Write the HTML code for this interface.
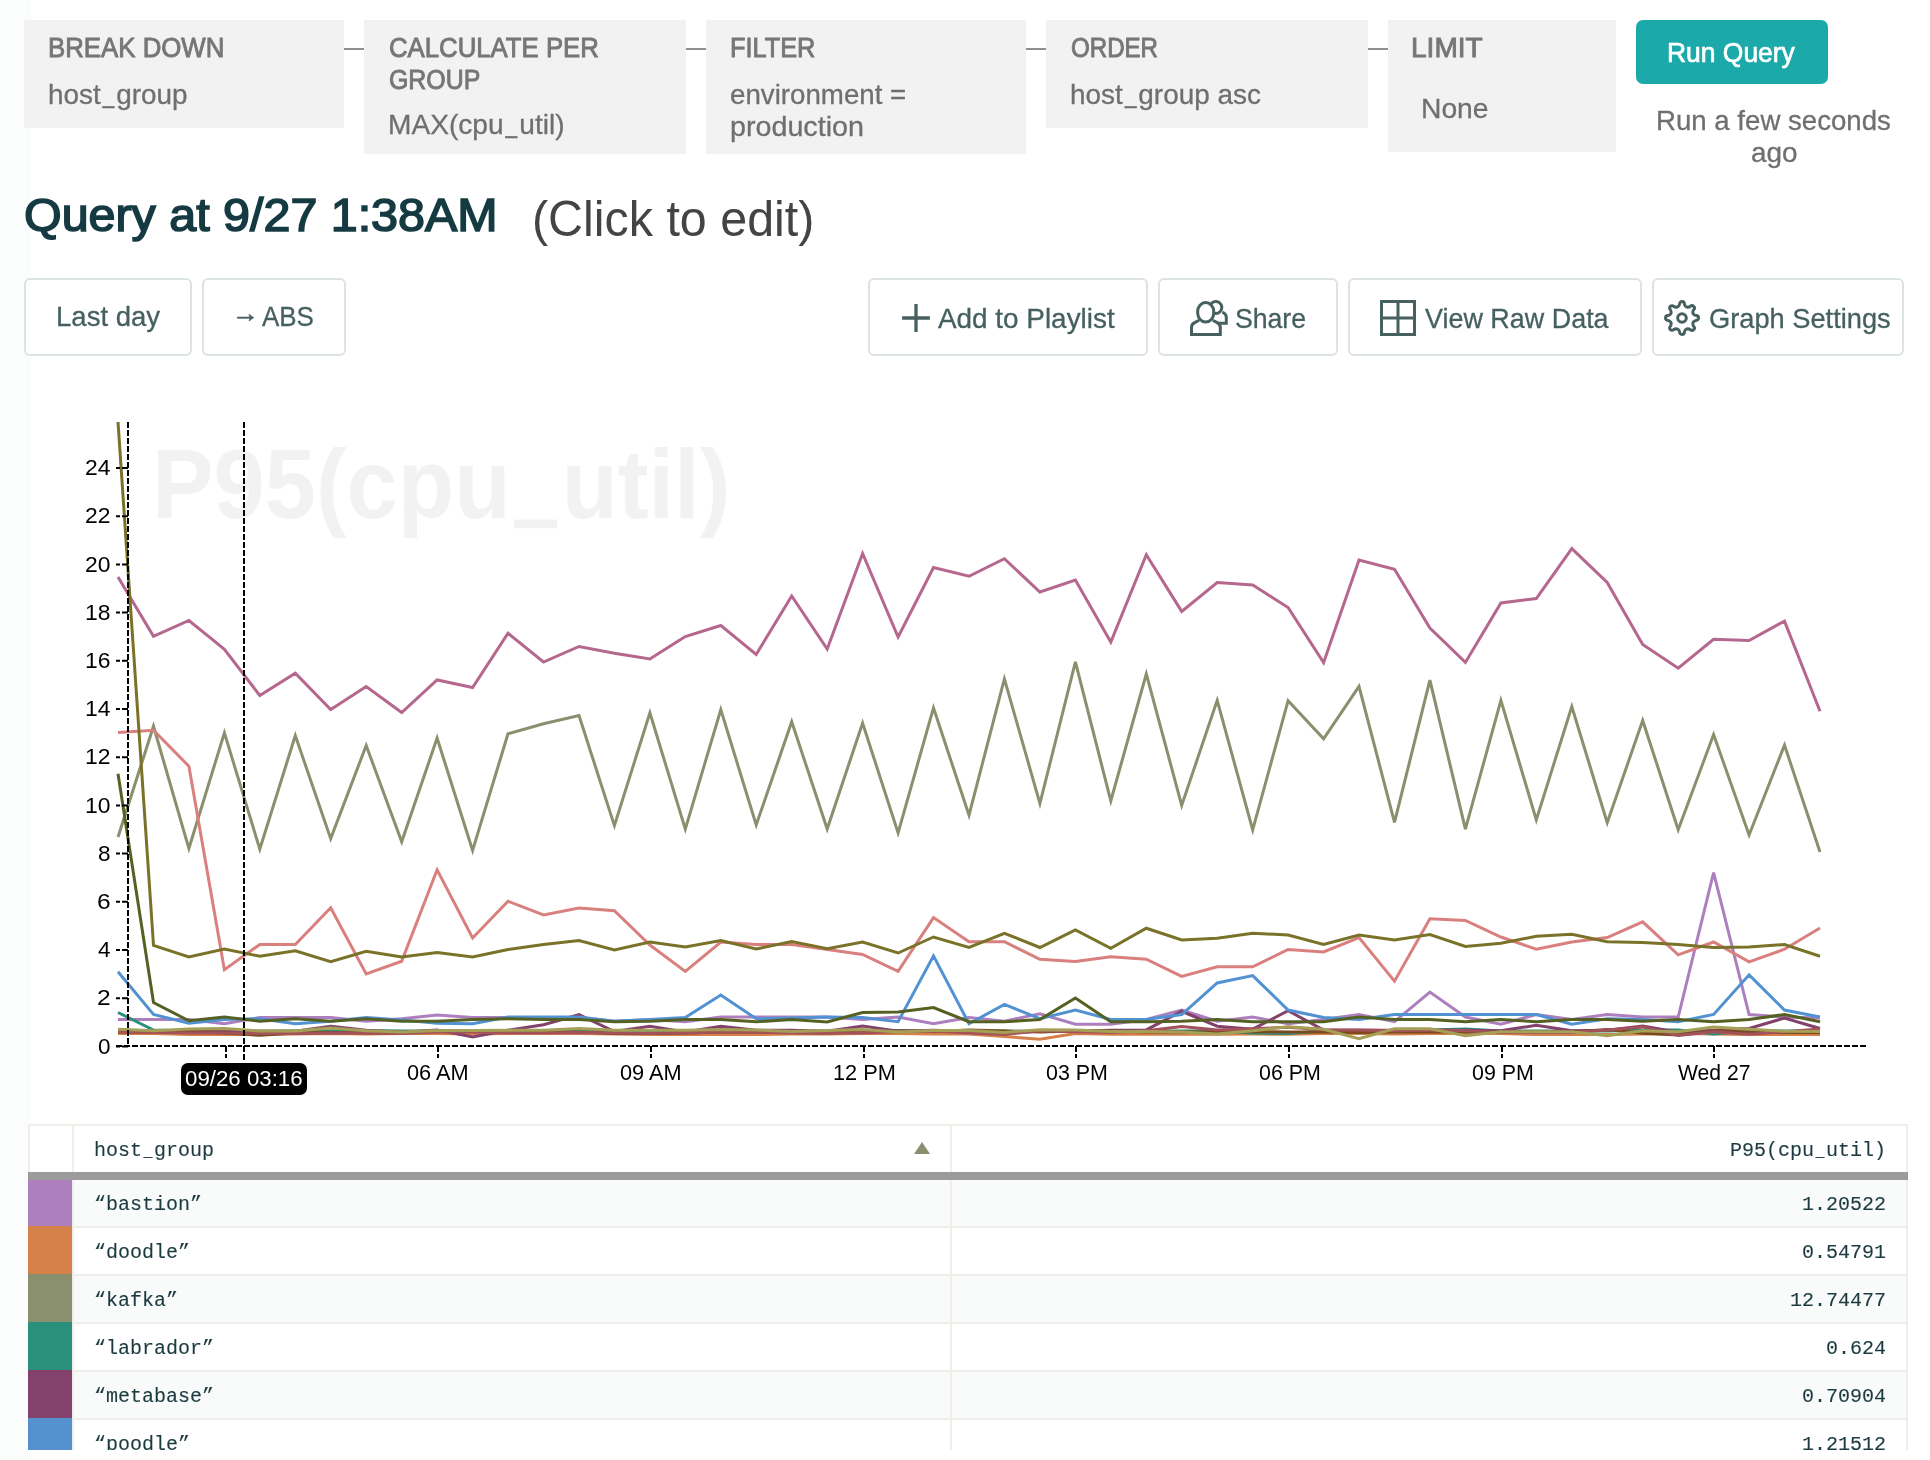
<!DOCTYPE html>
<html lang="en"><head><meta charset="utf-8"><title>Query at 9/27 1:38AM</title>
<style>
html,body{margin:0;padding:0;background:#fff}
body{width:1930px;height:1460px;position:relative;overflow:hidden;font-family:'Liberation Sans', sans-serif}
.edge{position:absolute;left:0;top:0;width:31px;height:1460px;background:#fbfcfc}
.t{position:absolute;white-space:nowrap;line-height:1;transform-origin:0 0;font-family:'Liberation Sans', sans-serif}
.us{display:inline-block;transform:translateY(-2.5px) scaleX(.74)}
.um{display:inline-block;transform:scaleX(.75)}
.box{position:absolute;background:#f2f2f2}
.conn{position:absolute;top:47.5px;height:2px;width:20px;background:#8f8f8f}
button{font:inherit;margin:0;padding:0;border:0;background:none;display:block;box-sizing:border-box;text-align:left;color:inherit}
h1{margin:0;padding:0;font:inherit}
.run{position:absolute;left:1636px;top:20px;width:192px;height:64px;border-radius:7px;background:#1ba9a9}
.btn{position:absolute;top:278px;height:78px;border:2px solid #dce4e3;border-radius:6px;background:#fff}
.ic{position:absolute;overflow:visible}
.chart{position:absolute;left:0;top:0}
.tip{position:absolute;left:180.5px;top:1062.5px;width:126.5px;height:32px;border-radius:7px;background:#000}
.tbl{position:absolute;left:28px;top:1124px;width:1880px;height:326px;overflow:hidden}
.th{position:absolute;left:0;top:0;width:1876px;height:46px;border:2px solid #efeee9;border-bottom:none;background:#fff}
.bar{position:absolute;left:0;top:48px;width:1880px;height:8px;background:#9b9b9b}
.cd{position:absolute;top:0;width:2px;height:400px;background:#efeee9}
.row{position:absolute;left:28px;width:1880px;height:46px;border-bottom:2px solid #efeee9}
.sw{position:absolute;left:0;top:0;width:44px;height:48px}
.mono{font-family:'Liberation Mono', monospace;font-size:20px;color:#1c3b41;-webkit-text-stroke:0.12px #1c3b41;line-height:1;position:absolute;white-space:nowrap}
.n{font-family:'Liberation Mono', monospace;font-size:20px;color:#1c3b41;-webkit-text-stroke:0.12px #1c3b41;position:absolute;left:66px;top:15px;line-height:1;white-space:nowrap}
.v{font-family:'Liberation Mono', monospace;font-size:20px;color:#1c3b41;-webkit-text-stroke:0.12px #1c3b41;position:absolute;right:22px;top:15px;line-height:1;white-space:nowrap}
.clipb{position:absolute;left:0;top:1450px;width:1930px;height:10px;background:#fff}
#page{position:absolute;left:0;top:0;width:1930px;height:1460px;will-change:transform}
</style></head><body>
<div id="page">
<div class="edge"></div>

<div class="box" style="left:24px;top:20px;width:320px;height:108px"><span class="t" style="left:23.51px;top:15px;font-size:26.8px;font-weight:400;color:#767676;transform:scaleX(0.9630);-webkit-text-stroke:0.9px currentColor;">BREAK DOWN</span><span class="t" style="left:24.17px;top:60px;font-size:28.5px;font-weight:400;color:#6f6f6f;transform:scaleX(0.9783);-webkit-text-stroke:0.3px currentColor;">host<span class="us">_</span>group</span></div>
<div class="conn" style="left:344px"></div>
<div class="box" style="left:364px;top:20px;width:322px;height:134px"><span class="t" style="left:25.07px;top:15px;font-size:26.8px;font-weight:400;color:#767676;transform:scaleX(0.9608);-webkit-text-stroke:0.9px currentColor;">CALCULATE PER</span><span class="t" style="left:25.09px;top:47px;font-size:26.8px;font-weight:400;color:#767676;transform:scaleX(0.9292);-webkit-text-stroke:0.9px currentColor;">GROUP</span><span class="t" style="left:23.78px;top:90px;font-size:28.5px;font-weight:400;color:#6f6f6f;transform:scaleX(0.9864);-webkit-text-stroke:0.3px currentColor;">MAX(cpu<span class="us">_</span>util)</span></div>
<div class="conn" style="left:686px"></div>
<div class="box" style="left:706px;top:20px;width:320px;height:134px"><span class="t" style="left:23.53px;top:15px;font-size:26.8px;font-weight:400;color:#767676;transform:scaleX(0.9452);-webkit-text-stroke:0.9px currentColor;">FILTER</span><span class="t" style="left:24.17px;top:60px;font-size:28.5px;font-weight:400;color:#6f6f6f;transform:scaleX(0.9719);-webkit-text-stroke:0.3px currentColor;">environment =</span><span class="t" style="left:24.14px;top:92px;font-size:28.5px;font-weight:400;color:#6f6f6f;transform:scaleX(1.0066);-webkit-text-stroke:0.3px currentColor;">production</span></div>
<div class="conn" style="left:1026px"></div>
<div class="box" style="left:1046px;top:20px;width:322px;height:108px"><span class="t" style="left:24.91px;top:15px;font-size:26.8px;font-weight:400;color:#767676;transform:scaleX(0.8991);-webkit-text-stroke:0.9px currentColor;">ORDER</span><span class="t" style="left:24.17px;top:60px;font-size:28.5px;font-weight:400;color:#6f6f6f;transform:scaleX(0.9797);-webkit-text-stroke:0.3px currentColor;">host<span class="us">_</span>group asc</span></div>
<div class="conn" style="left:1368px"></div>
<div class="box" style="left:1388px;top:20px;width:228px;height:132px"><span class="t" style="left:22.78px;top:15px;font-size:26.8px;font-weight:400;color:#767676;transform:scaleX(1.0475);-webkit-text-stroke:0.9px currentColor;">LIMIT</span><span class="t" style="left:32.57px;top:74px;font-size:28.5px;font-weight:400;color:#6f6f6f;transform:scaleX(0.9911);-webkit-text-stroke:0.3px currentColor;">None</span></div>
<button class="run"><span class="t" style="left:31.44px;top:19px;font-size:28px;font-weight:400;color:#fff;transform:scaleX(0.9441);-webkit-text-stroke:0.7px currentColor;">Run Query</span></button>
<span class="t" style="left:1656.21px;top:106px;font-size:28.5px;font-weight:400;color:#6f6f6f;transform:scaleX(0.9691);-webkit-text-stroke:0.3px currentColor;">Run a few seconds</span><span class="t" style="left:1751.17px;top:138px;font-size:28.5px;font-weight:400;color:#6f6f6f;transform:scaleX(0.9782);-webkit-text-stroke:0.3px currentColor;">ago</span>

<h1><span class="t" style="left:23.73px;top:193px;font-size:45.6px;font-weight:400;color:#153a42;transform:scaleX(1.0617);-webkit-text-stroke:1.6px currentColor;">Query at 9/27 1:38AM</span></h1><span class="t" style="left:532.07px;top:194px;font-size:49.5px;font-weight:400;color:#444;transform:scaleX(0.9777);">(Click to edit)</span>

<button class="btn" style="left:24px;width:168px"><span class="t" style="left:29.61px;top:22px;font-size:28.5px;font-weight:400;color:#45605f;transform:scaleX(0.9664);-webkit-text-stroke:0.3px currentColor;">Last day</span></button>
<button class="btn" style="left:202px;width:144px"><span class="t" style="left:27.54px;top:21px;font-size:25px;font-weight:400;color:#45605f;transform:scaleX(1.0769);-webkit-text-stroke:0.6px currentColor;">→</span><span class="t" style="left:58.34px;top:22px;font-size:28.5px;font-weight:400;color:#45605f;transform:scaleX(0.9091);-webkit-text-stroke:0.3px currentColor;">ABS</span></button>
<button class="btn" style="left:868px;width:280px"><svg class="ic" style="left:30px;top:22px" width="32" height="32" viewBox="900 302 32 32"><path d="M916,304.1V331.9M902.1,318H929.9" stroke="#45605f" stroke-width="3.3" fill="none"/></svg><span class="t" style="left:68.15px;top:24px;font-size:28.5px;font-weight:400;color:#45605f;transform:scaleX(0.9781);-webkit-text-stroke:0.3px currentColor;">Add to Playlist</span></button>
<button class="btn" style="left:1158px;width:180px"><svg class="ic" style="left:26px;top:16px" width="46" height="44" viewBox="1186 296 46 44"><g fill="none" stroke="#45605f" stroke-width="3">
<circle cx="1215.8" cy="307.5" r="6"/>
<path d="M1222.3,312.2Q1226.3,313.8 1226.3,317.6V323.3H1216"/>
<path d="M1199,320.2L1194.2,322.9Q1191.5,324.4 1191.5,327.6V334.5H1220.3V327.6Q1220.3,324.4 1217.6,322.9L1212.8,320.2" fill="#fff"/>
<rect x="1197.7" y="302.6" width="16" height="19.4" rx="8" ry="8.7" fill="#fff"/>
</g></svg><span class="t" style="left:75.21px;top:24px;font-size:28.5px;font-weight:400;color:#45605f;transform:scaleX(0.9342);-webkit-text-stroke:0.3px currentColor;">Share</span></button>
<button class="btn" style="left:1348px;width:294px"><svg class="ic" style="left:30px;top:20px" width="36" height="36" viewBox="0 0 36 36"><path d="M1.5,1.5H34.5V34.5H1.5ZM18,1.5V34.5M1.5,18H34.5" stroke="#45605f" stroke-width="3" fill="none"/></svg><span class="t" style="left:75.14px;top:24px;font-size:28.5px;font-weight:400;color:#45605f;transform:scaleX(0.9448);-webkit-text-stroke:0.3px currentColor;">View Raw Data</span></button>
<button class="btn" style="left:1652px;width:252px"><svg class="ic" style="left:6px;top:16px" width="44" height="44" viewBox="1660 296 44 44"><g fill="none" stroke="#45605f" stroke-width="3" stroke-linejoin="round">
<path d="M1678.00,306.69Q1679.60,305.00 1679.60,303.90A2.4,2.4 0 0 1 1684.40,303.90Q1684.40,305.00 1686.00,306.69A12.0,12.0 0 0 1 1687.17,307.17Q1689.50,307.11 1690.27,306.33A2.4,2.4 0 0 1 1693.67,309.73Q1692.89,310.50 1692.83,312.83A12.0,12.0 0 0 1 1693.31,314.00Q1695.00,315.60 1696.10,315.60A2.4,2.4 0 0 1 1696.10,320.40Q1695.00,320.40 1693.31,322.00A12.0,12.0 0 0 1 1692.83,323.17Q1692.89,325.50 1693.67,326.27A2.4,2.4 0 0 1 1690.27,329.67Q1689.50,328.89 1687.17,328.83A12.0,12.0 0 0 1 1686.00,329.31Q1684.40,331.00 1684.40,332.10A2.4,2.4 0 0 1 1679.60,332.10Q1679.60,331.00 1678.00,329.31A12.0,12.0 0 0 1 1676.83,328.83Q1674.50,328.89 1673.73,329.67A2.4,2.4 0 0 1 1670.33,326.27Q1671.11,325.50 1671.17,323.17A12.0,12.0 0 0 1 1670.69,322.00Q1669.00,320.40 1667.90,320.40A2.4,2.4 0 0 1 1667.90,315.60Q1669.00,315.60 1670.69,314.00A12.0,12.0 0 0 1 1671.17,312.83Q1671.11,310.50 1670.33,309.73A2.4,2.4 0 0 1 1673.73,306.33Q1674.50,307.11 1676.83,307.17A12.0,12.0 0 0 1 1678.00,306.69Z"/><circle cx="1682" cy="318" r="4.3"/></g></svg><span class="t" style="left:54.79px;top:24px;font-size:28.5px;font-weight:400;color:#45605f;transform:scaleX(0.9558);-webkit-text-stroke:0.3px currentColor;">Graph Settings</span></button>

<span class="t" style="left:152.42px;top:434px;font-size:99px;font-weight:700;color:#f2f2f2;transform:scaleX(0.9303);">P95(cpu<span style="display:inline-block;transform-origin:50% 97.7px;transform:scale(0.81,2.29)">_</span>util)</span>
<svg class="chart" width="1930" height="1460" viewBox="0 0 1930 1460">
<defs><clipPath id="cp"><rect x="100" y="422" width="1780" height="640"/></clipPath></defs>
<g fill="none" stroke-width="3" stroke-linejoin="miter" clip-path="url(#cp)">
<polyline points="118.0,1019.50 153.5,1019.50 188.9,1019.50 224.4,1023.75 259.8,1017.50 295.3,1017.50 330.7,1017.50 366.2,1021.25 401.7,1018.75 437.1,1015.00 472.6,1017.50 508.0,1017.50 543.5,1018.75 579.0,1017.50 614.4,1021.25 649.9,1019.50 685.3,1021.75 720.8,1017.00 756.2,1017.00 791.7,1017.00 827.2,1017.00 862.6,1019.50 898.1,1017.00 933.5,1023.75 969.0,1017.50 1004.4,1021.25 1039.9,1013.75 1075.4,1024.25 1110.8,1024.25 1146.3,1019.50 1181.7,1010.00 1217.2,1021.25 1252.7,1017.00 1288.1,1023.75 1323.6,1019.50 1359.0,1014.50 1394.5,1021.75 1429.9,992.10 1465.4,1017.00 1500.9,1024.25 1536.3,1014.50 1571.8,1019.50 1607.2,1014.50 1642.7,1017.00 1678.2,1017.00 1713.6,872.60 1749.1,1014.50 1784.5,1017.00 1820.0,1018.00" stroke="#ad7fbe"/>
<polyline points="118.0,1033.50 153.5,1033.50 188.9,1034.50 224.4,1034.50 259.8,1034.50 295.3,1034.00 330.7,1033.50 366.2,1034.00 401.7,1033.50 437.1,1033.50 472.6,1034.00 508.0,1033.50 543.5,1033.50 579.0,1033.50 614.4,1034.00 649.9,1034.50 685.3,1034.50 720.8,1034.50 756.2,1034.50 791.7,1034.00 827.2,1034.00 862.6,1033.50 898.1,1033.50 933.5,1034.00 969.0,1034.00 1004.4,1036.50 1039.9,1039.20 1075.4,1033.50 1110.8,1034.20 1146.3,1034.20 1181.7,1034.20 1217.2,1034.20 1252.7,1034.00 1288.1,1034.30 1323.6,1033.50 1359.0,1033.50 1394.5,1034.00 1429.9,1033.50 1465.4,1033.50 1500.9,1033.50 1536.3,1034.50 1571.8,1034.50 1607.2,1034.50 1642.7,1034.00 1678.2,1033.50 1713.6,1034.00 1749.1,1034.50 1784.5,1034.50 1820.0,1034.50" stroke="#d58048"/>
<polyline points="118.0,837.00 153.5,726.24 188.9,848.55 224.4,732.83 259.8,849.21 295.3,735.52 330.7,838.64 366.2,745.48 401.7,841.81 437.1,738.01 472.6,850.48 508.0,733.75 543.5,723.75 579.0,715.60 614.4,825.60 649.9,712.77 685.3,829.09 720.8,709.64 756.2,824.95 791.7,721.65 827.2,829.04 862.6,723.01 898.1,832.88 933.5,707.82 969.0,815.25 1004.4,678.91 1039.9,803.49 1075.4,661.85 1110.8,800.98 1146.3,673.87 1181.7,805.38 1217.2,700.33 1252.7,829.88 1288.1,700.69 1323.6,738.89 1359.0,686.29 1394.5,822.40 1429.9,680.10 1465.4,829.15 1500.9,700.40 1536.3,819.90 1571.8,706.53 1607.2,822.71 1642.7,720.42 1678.2,829.74 1713.6,734.60 1749.1,835.01 1784.5,745.10 1820.0,852.00" stroke="#8a8f6e"/>
<polyline points="118.0,1012.50 153.5,1030.00 188.9,1031.00 224.4,1031.30 259.8,1031.30 295.3,1031.00 330.7,1031.00 366.2,1030.50 401.7,1031.00 437.1,1031.00 472.6,1031.00 508.0,1031.50 543.5,1030.50 579.0,1031.00 614.4,1031.00 649.9,1031.00 685.3,1031.00 720.8,1030.50 756.2,1031.00 791.7,1031.50 827.2,1031.00 862.6,1031.00 898.1,1030.50 933.5,1031.00 969.0,1031.00 1004.4,1031.00 1039.9,1031.50 1075.4,1031.00 1110.8,1030.50 1146.3,1031.00 1181.7,1031.00 1217.2,1031.00 1252.7,1033.00 1288.1,1033.50 1323.6,1031.00 1359.0,1031.00 1394.5,1031.00 1429.9,1030.00 1465.4,1028.90 1500.9,1031.00 1536.3,1031.00 1571.8,1031.00 1607.2,1031.00 1642.7,1030.00 1678.2,1030.00 1713.6,1034.00 1749.1,1030.80 1784.5,1031.00 1820.0,1031.00" stroke="#2a8f7b"/>
<polyline points="118.0,1031.20 153.5,1030.90 188.9,1031.20 224.4,1031.20 259.8,1031.20 295.3,1031.20 330.7,1026.30 366.2,1030.20 401.7,1032.20 437.1,1029.90 472.6,1037.00 508.0,1030.20 543.5,1024.70 579.0,1014.70 614.4,1031.50 649.9,1026.30 685.3,1032.00 720.8,1026.30 756.2,1030.20 791.7,1030.20 827.2,1031.20 862.6,1026.00 898.1,1031.20 933.5,1030.20 969.0,1031.20 1004.4,1033.20 1039.9,1031.20 1075.4,1031.20 1110.8,1030.20 1146.3,1029.95 1181.7,1011.25 1217.2,1026.25 1252.7,1029.20 1288.1,1010.75 1323.6,1029.95 1359.0,1030.20 1394.5,1030.20 1429.9,1030.20 1465.4,1030.20 1500.9,1030.80 1536.3,1025.20 1571.8,1030.80 1607.2,1030.20 1642.7,1026.00 1678.2,1032.20 1713.6,1030.20 1749.1,1028.50 1784.5,1018.00 1820.0,1028.50" stroke="#83426c"/>
<polyline points="118.0,971.75 153.5,1014.50 188.9,1023.25 224.4,1019.50 259.8,1018.75 295.3,1023.75 330.7,1021.25 366.2,1017.50 401.7,1020.00 437.1,1023.25 472.6,1023.75 508.0,1017.00 543.5,1017.00 579.0,1017.00 614.4,1021.25 649.9,1019.50 685.3,1017.50 720.8,995.10 756.2,1018.75 791.7,1018.00 827.2,1017.00 862.6,1017.50 898.1,1021.75 933.5,955.90 969.0,1023.75 1004.4,1004.35 1039.9,1018.75 1075.4,1010.00 1110.8,1019.50 1146.3,1019.50 1181.7,1014.50 1217.2,983.00 1252.7,975.60 1288.1,1010.00 1323.6,1017.50 1359.0,1019.50 1394.5,1014.50 1429.9,1014.50 1465.4,1014.50 1500.9,1014.50 1536.3,1014.50 1571.8,1024.25 1607.2,1018.75 1642.7,1019.50 1678.2,1021.75 1713.6,1014.50 1749.1,974.85 1784.5,1010.00 1820.0,1017.00" stroke="#5292d2"/>
<polyline points="118.0,577.00 153.5,636.25 188.9,620.50 224.4,649.25 259.8,695.50 295.3,673.25 330.7,709.50 366.2,686.50 401.7,712.50 437.1,680.00 472.6,687.50 508.0,633.25 543.5,662.00 579.0,646.50 614.4,653.25 649.9,659.00 685.3,636.50 720.8,625.50 756.2,654.40 791.7,595.99 827.2,649.03 862.6,553.51 898.1,637.01 933.5,567.50 969.0,576.25 1004.4,558.75 1039.9,592.00 1075.4,580.00 1110.8,642.12 1146.3,554.73 1181.7,611.40 1217.2,582.50 1252.7,585.00 1288.1,607.50 1323.6,662.64 1359.0,560.00 1394.5,569.25 1429.9,628.00 1465.4,662.40 1500.9,603.00 1536.3,598.50 1571.8,548.60 1607.2,582.50 1642.7,644.50 1678.2,668.15 1713.6,639.25 1749.1,640.50 1784.5,621.10 1820.0,711.25" stroke="#b5678e"/>
<polyline points="118.0,732.50 153.5,730.25 188.9,766.25 224.4,969.70 259.8,944.50 295.3,944.50 330.7,907.72 366.2,973.90 401.7,961.25 437.1,869.83 472.6,938.01 508.0,901.25 543.5,915.00 579.0,908.00 614.4,910.75 649.9,945.00 685.3,971.40 720.8,942.00 756.2,944.50 791.7,944.50 827.2,949.50 862.6,954.50 898.1,971.40 933.5,917.60 969.0,941.75 1004.4,941.75 1039.9,959.25 1075.4,961.50 1110.8,956.75 1146.3,959.25 1181.7,976.40 1217.2,966.75 1252.7,966.75 1288.1,949.50 1323.6,952.00 1359.0,937.50 1394.5,981.15 1429.9,918.75 1465.4,920.50 1500.9,937.00 1536.3,949.25 1571.8,942.00 1607.2,937.50 1642.7,921.85 1678.2,954.90 1713.6,942.00 1749.1,961.90 1784.5,949.25 1820.0,928.00" stroke="#d9807e"/>
<polyline points="118.0,422.00 153.5,945.50 188.9,957.00 224.4,949.00 259.8,956.25 295.3,950.75 330.7,961.75 366.2,951.25 401.7,957.00 437.1,952.50 472.6,957.00 508.0,949.50 543.5,944.50 579.0,940.50 614.4,950.00 649.9,942.00 685.3,947.00 720.8,940.50 756.2,949.00 791.7,941.50 827.2,948.75 862.6,942.00 898.1,953.00 933.5,937.00 969.0,947.50 1004.4,933.25 1039.9,947.50 1075.4,930.00 1110.8,948.25 1146.3,928.25 1181.7,940.00 1217.2,938.25 1252.7,933.25 1288.1,935.00 1323.6,944.50 1359.0,935.00 1394.5,940.00 1429.9,934.50 1465.4,946.50 1500.9,943.25 1536.3,936.25 1571.8,934.25 1607.2,941.75 1642.7,942.50 1678.2,944.50 1713.6,947.50 1749.1,947.00 1784.5,944.50 1820.0,956.25" stroke="#7b722a"/>
<polyline points="118.0,773.75 153.5,1002.50 188.9,1020.75 224.4,1017.00 259.8,1021.25 295.3,1018.75 330.7,1021.25 366.2,1018.75 401.7,1021.25 437.1,1021.25 472.6,1019.50 508.0,1018.75 543.5,1019.50 579.0,1019.50 614.4,1021.75 649.9,1021.25 685.3,1019.50 720.8,1019.50 756.2,1021.75 791.7,1019.50 827.2,1022.00 862.6,1012.50 898.1,1012.00 933.5,1007.50 969.0,1021.75 1004.4,1021.75 1039.9,1019.50 1075.4,998.00 1110.8,1021.75 1146.3,1021.75 1181.7,1021.25 1217.2,1019.50 1252.7,1021.75 1288.1,1021.75 1323.6,1021.75 1359.0,1017.00 1394.5,1019.50 1429.9,1019.50 1465.4,1021.75 1500.9,1019.50 1536.3,1021.75 1571.8,1019.50 1607.2,1019.50 1642.7,1021.25 1678.2,1019.50 1713.6,1021.75 1749.1,1019.50 1784.5,1014.50 1820.0,1021.75" stroke="#546122"/>
<polyline points="118.0,1032.00 153.5,1032.00 188.9,1032.00 224.4,1033.00 259.8,1035.30 295.3,1033.00 330.7,1032.50 366.2,1033.00 401.7,1033.00 437.1,1030.50 472.6,1031.00 508.0,1032.00 543.5,1032.00 579.0,1032.00 614.4,1033.50 649.9,1033.50 685.3,1033.00 720.8,1032.00 756.2,1032.00 791.7,1032.50 827.2,1033.00 862.6,1032.00 898.1,1031.00 933.5,1031.50 969.0,1030.00 1004.4,1031.00 1039.9,1032.00 1075.4,1031.00 1110.8,1031.00 1146.3,1032.00 1181.7,1032.00 1217.2,1032.00 1252.7,1031.50 1288.1,1032.00 1323.6,1032.00 1359.0,1032.50 1394.5,1032.00 1429.9,1032.00 1465.4,1032.00 1500.9,1032.00 1536.3,1032.00 1571.8,1032.00 1607.2,1029.40 1642.7,1033.30 1678.2,1035.00 1713.6,1031.00 1749.1,1032.00 1784.5,1032.50 1820.0,1032.50" stroke="#7a4a1e"/>
<polyline points="118.0,1031.80 153.5,1032.20 188.9,1033.00 224.4,1033.00 259.8,1033.50 295.3,1033.50 330.7,1033.00 366.2,1033.00 401.7,1033.50 437.1,1032.00 472.6,1032.00 508.0,1033.00 543.5,1033.00 579.0,1032.50 614.4,1033.00 649.9,1033.50 685.3,1033.00 720.8,1032.00 756.2,1032.00 791.7,1033.00 827.2,1033.00 862.6,1033.00 898.1,1031.50 933.5,1031.00 969.0,1033.00 1004.4,1034.50 1039.9,1030.80 1075.4,1031.70 1110.8,1032.50 1146.3,1030.80 1181.7,1026.40 1217.2,1030.00 1252.7,1028.70 1288.1,1027.30 1323.6,1029.70 1359.0,1030.00 1394.5,1030.80 1429.9,1030.00 1465.4,1030.80 1500.9,1032.50 1536.3,1032.50 1571.8,1032.50 1607.2,1030.00 1642.7,1026.90 1678.2,1035.60 1713.6,1031.70 1749.1,1034.20 1784.5,1031.70 1820.0,1028.90" stroke="#a4525a"/>
<polyline points="118.0,1029.30 153.5,1030.70 188.9,1029.10 224.4,1028.40 259.8,1031.10 295.3,1031.10 330.7,1028.10 366.2,1030.70 401.7,1031.90 437.1,1030.40 472.6,1030.40 508.0,1030.20 543.5,1030.20 579.0,1028.40 614.4,1030.20 649.9,1030.20 685.3,1030.20 720.8,1029.40 756.2,1029.90 791.7,1031.40 827.2,1030.40 862.6,1029.40 898.1,1031.90 933.5,1030.40 969.0,1030.40 1004.4,1032.40 1039.9,1029.70 1075.4,1030.00 1110.8,1031.50 1146.3,1031.50 1181.7,1032.00 1217.2,1034.00 1252.7,1030.80 1288.1,1026.80 1323.6,1029.20 1359.0,1038.70 1394.5,1028.70 1429.9,1028.70 1465.4,1035.80 1500.9,1031.70 1536.3,1031.70 1571.8,1031.70 1607.2,1035.80 1642.7,1030.80 1678.2,1031.70 1713.6,1026.90 1749.1,1029.20 1784.5,1031.30 1820.0,1031.50" stroke="#a5a055"/>
</g>
<g fill="none" stroke="#000" stroke-width="2" stroke-dasharray="6,2">
<path d="M128,422V1046"/>
<path d="M116,1046H1866"/>
<path d="M128,1046.4H116"/>
<path d="M128,998.2H116"/>
<path d="M128,950.0H116"/>
<path d="M128,901.8H116"/>
<path d="M128,853.6H116"/>
<path d="M128,805.4H116"/>
<path d="M128,757.2H116"/>
<path d="M128,709.0H116"/>
<path d="M128,660.8H116"/>
<path d="M128,612.6H116"/>
<path d="M128,564.4H116"/>
<path d="M128,516.2H116"/>
<path d="M128,468.0H116"/>
<path d="M226,1046V1058"/>
<path d="M438,1046V1058"/>
<path d="M651,1046V1058"/>
<path d="M864,1046V1058"/>
<path d="M1076,1046V1058"/>
<path d="M1289,1046V1058"/>
<path d="M1502,1046V1058"/>
<path d="M1714,1046V1058"/>
<path d="M244,422V1060"/>
</g>
</svg>
<span class="t" style="left:97.70px;top:1035px;font-size:22.7px;font-weight:400;color:#000;transform:scaleX(0.9917);">0</span><span class="t" style="left:96.62px;top:986px;font-size:22.7px;font-weight:400;color:#000;transform:scaleX(1.0818);">2</span><span class="t" style="left:97.70px;top:938px;font-size:22.7px;font-weight:400;color:#000;transform:scaleX(0.9917);">4</span><span class="t" style="left:96.62px;top:890px;font-size:22.7px;font-weight:400;color:#000;transform:scaleX(1.0818);">6</span><span class="t" style="left:97.70px;top:842px;font-size:22.7px;font-weight:400;color:#000;transform:scaleX(0.9917);">8</span><span class="t" style="left:84.79px;top:794px;font-size:22.7px;font-weight:400;color:#000;transform:scaleX(1.0077);">10</span><span class="t" style="left:84.79px;top:745px;font-size:22.7px;font-weight:400;color:#000;transform:scaleX(1.0077);">12</span><span class="t" style="left:84.79px;top:697px;font-size:22.7px;font-weight:400;color:#000;transform:scaleX(1.0077);">14</span><span class="t" style="left:84.79px;top:649px;font-size:22.7px;font-weight:400;color:#000;transform:scaleX(1.0077);">16</span><span class="t" style="left:84.79px;top:601px;font-size:22.7px;font-weight:400;color:#000;transform:scaleX(1.0077);">18</span><span class="t" style="left:84.79px;top:553px;font-size:22.7px;font-weight:400;color:#000;transform:scaleX(1.0077);">20</span><span class="t" style="left:84.79px;top:504px;font-size:22.7px;font-weight:400;color:#000;transform:scaleX(1.0077);">22</span><span class="t" style="left:84.79px;top:456px;font-size:22.7px;font-weight:400;color:#000;transform:scaleX(1.0077);">24</span>
<span class="t" style="left:407.00px;top:1061px;font-size:22.7px;font-weight:400;color:#000;transform:scaleX(0.9587);">06 AM</span><span class="t" style="left:620.00px;top:1061px;font-size:22.7px;font-weight:400;color:#000;transform:scaleX(0.9587);">09 AM</span><span class="t" style="left:832.54px;top:1061px;font-size:22.7px;font-weight:400;color:#000;transform:scaleX(0.9580);">12 PM</span><span class="t" style="left:1045.50px;top:1061px;font-size:22.7px;font-weight:400;color:#000;transform:scaleX(0.9432);">03 PM</span><span class="t" style="left:1258.50px;top:1061px;font-size:22.7px;font-weight:400;color:#000;transform:scaleX(0.9432);">06 PM</span><span class="t" style="left:1471.50px;top:1061px;font-size:22.7px;font-weight:400;color:#000;transform:scaleX(0.9432);">09 PM</span><span class="t" style="left:1678.00px;top:1061px;font-size:22.7px;font-weight:400;color:#000;transform:scaleX(0.9331);">Wed 27</span>
<div class="tip"></div><span class="t" style="left:185.00px;top:1067px;font-size:22.7px;font-weight:400;color:#fff;transform:scaleX(0.9813);">09/26 03:16</span>

<div class="tbl">
<div class="th"></div>
<span class="mono" style="left:66px;top:17px">host<span class="um">_</span>group</span>
<span class="mono" style="right:22px;top:17px">P95(cpu<span class="um">_</span>util)</span>
<svg class="ic" style="left:886px;top:18px" width="16" height="12"><path d="M0,12L8,0L16,12Z" fill="#8a8f6e"/></svg>
<div class="bar"></div>
</div>
<div style="position:absolute;left:0;top:0;width:1930px;height:1450px;overflow:hidden">
<div class="row" style="top:1180px;background:#f9fbfa"><div class="sw" style="background:#ad7fbe;top:0px;height:46px"></div><span class="n">“bastion”</span><span class="v">1.20522</span></div>
<div class="row" style="top:1228px;background:#fff"><div class="sw" style="background:#d58048;top:-2px;height:48px"></div><span class="n">“doodle”</span><span class="v">0.54791</span></div>
<div class="row" style="top:1276px;background:#f9fbfa"><div class="sw" style="background:#8a8f6e;top:-2px;height:48px"></div><span class="n">“kafka”</span><span class="v">12.74477</span></div>
<div class="row" style="top:1324px;background:#fff"><div class="sw" style="background:#2a8f7b;top:-2px;height:48px"></div><span class="n">“labrador”</span><span class="v">0.624</span></div>
<div class="row" style="top:1372px;background:#f9fbfa"><div class="sw" style="background:#83426c;top:-2px;height:48px"></div><span class="n">“metabase”</span><span class="v">0.70904</span></div>
<div class="row" style="top:1420px;background:#fff"><div class="sw" style="background:#5590cf;top:-2px;height:48px"></div><span class="n">“poodle”</span><span class="v">1.21512</span></div>

<div class="cd" style="left:72px;top:1126px;height:46px"></div>
<div class="cd" style="left:950px;top:1126px;height:46px"></div>
<div class="cd" style="left:72px;top:1180px;height:270px"></div>
<div class="cd" style="left:950px;top:1180px;height:270px"></div>
<div class="cd" style="left:28px;top:1126px;height:46px"></div>
<div class="cd" style="left:1906px;top:1126px;height:46px"></div><div class="cd" style="left:1906px;top:1180px;height:270px"></div>
</div>
</div>
</body></html>
